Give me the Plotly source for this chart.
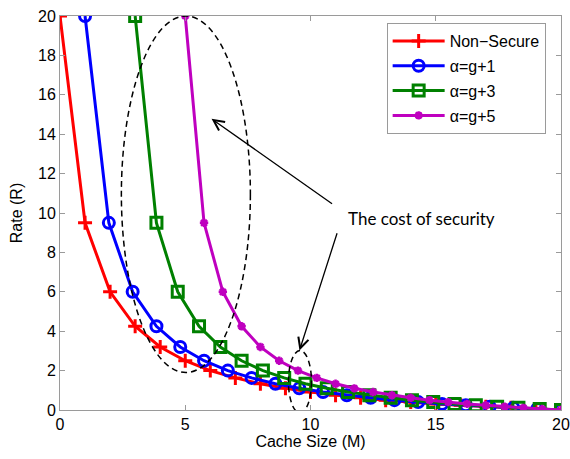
import plotly.graph_objects as go

# ---- data ----
nonsecure_x = [0, 1, 2, 3, 4, 5, 6, 7, 8, 9, 10, 11, 12, 13, 14, 15, 16, 17, 18, 19, 20]
nonsecure_y = [20, 9.5, 6, 4.25, 3.2, 2.5, 2.0, 1.63, 1.33, 1.1, 0.91, 0.75, 0.62, 0.5, 0.4, 0.31, 0.24, 0.17, 0.11, 0.05, 0]

g1_x = [1, 1.95, 2.9, 3.85, 4.8, 5.75, 6.7, 7.65, 8.6, 9.55, 10.5, 11.45, 12.4, 13.35, 14.3, 15.25, 16.2, 17.15, 18.1, 19.05, 20]
g1_y = [20, 9.5, 6, 4.25, 3.2, 2.5, 2.0, 1.63, 1.33, 1.1, 0.91, 0.75, 0.62, 0.5, 0.4, 0.31, 0.24, 0.17, 0.11, 0.05, 0]

g3_x = [3, 3.85, 4.7, 5.55, 6.4, 7.25, 8.1, 8.95, 9.8, 10.65, 11.5, 12.35, 13.2, 14.05, 14.9, 15.75, 16.6, 17.45, 18.3, 19.15, 20]
g3_y = [20, 9.5, 6, 4.25, 3.2, 2.5, 2.0, 1.63, 1.33, 1.1, 0.91, 0.75, 0.62, 0.5, 0.4, 0.31, 0.24, 0.17, 0.11, 0.05, 0]

g5_x = [5, 5.75, 6.5, 7.25, 8, 8.75, 9.5, 10.25, 11, 11.75, 12.5, 13.25, 14, 14.75, 15.5, 16.25, 17, 17.75, 18.5, 19.25, 20]
g5_y = [20, 9.5, 6, 4.25, 3.2, 2.5, 2.0, 1.63, 1.33, 1.1, 0.91, 0.75, 0.62, 0.5, 0.4, 0.31, 0.24, 0.17, 0.11, 0.05, 0]

series_names = ["Non\u2212Secure", "\u03b1=g+1", "\u03b1=g+3", "\u03b1=g+5"]
x_ticks = [0, 5, 10, 15, 20]
y_ticks = [0, 2, 4, 6, 8, 10, 12, 14, 16, 18, 20]
annotation_text = "The cost of security"

FONT = "Liberation Sans, Arial, sans-serif"
AX = "#9a9a9a"

fig = go.Figure()
fig.add_trace(go.Scatter(x=nonsecure_x, y=nonsecure_y, name=series_names[0], mode="lines+markers",
                         legendgroup="a",
                         line=dict(color="#FF0000", width=3),
                         marker=dict(symbol="cross-thin-open", size=10, line=dict(color="#FF0000", width=3))))
fig.add_trace(go.Scatter(x=g1_x, y=g1_y, name=series_names[1], mode="lines+markers",
                         legendgroup="b",
                         line=dict(color="#0000FF", width=3),
                         marker=dict(symbol="circle-open", size=11, line=dict(color="#0000FF", width=3))))
fig.add_trace(go.Scatter(x=g3_x, y=g3_y, name=series_names[2], mode="lines+markers",
                         legendgroup="c",
                         line=dict(color="#008000", width=3),
                         marker=dict(symbol="square-open", size=11, line=dict(color="#008000", width=3))))
fig.add_trace(go.Scatter(x=g5_x, y=g5_y, name=series_names[3], mode="lines+markers",
                         legendgroup="d",
                         line=dict(color="#BF00BF", width=3),
                         marker=dict(symbol="asterisk-open", size=7, line=dict(color="#BF00BF", width=2.5))))

# dashed ellipses
fig.add_shape(type="circle", xref="x", yref="y", x0=2.45, x1=7.6, y0=1.9, y1=20,
              line=dict(color="black", width=1.5, dash="6px,4px"))
fig.add_shape(type="circle", xref="x", yref="y", x0=9.12, x1=10.04, y0=-0.15, y1=3.02,
              line=dict(color="black", width=1.5, dash="6px,4px"))

# arrows
fig.add_annotation(x=6.05, y=14.78, ax=10.92, ay=10.42, xref="x", yref="y", axref="x", ayref="y",
                   text="", showarrow=True, arrowhead=5, arrowsize=1.6, arrowwidth=1.3, arrowcolor="black")
fig.add_annotation(x=9.56, y=3.02, ax=11.08, ay=9.05, xref="x", yref="y", axref="x", ayref="y",
                   text="", showarrow=True, arrowhead=5, arrowsize=1.6, arrowwidth=1.3, arrowcolor="black")
fig.add_annotation(x=11.4, y=9.7, xref="x", yref="y", xanchor="left", yanchor="middle",
                   text=annotation_text, showarrow=False,
                   font=dict(family="Lato, Open Sans, sans-serif", size=17, color="black"))

axis_common = dict(showline=True, linecolor=AX, linewidth=1, mirror="ticks", ticks="inside",
                   ticklen=5, tickcolor=AX, showgrid=False, zeroline=False, automargin=False,
                   tickfont=dict(family=FONT, size=16, color="black"))

fig.update_layout(
    width=570, height=459,
    margin=dict(l=60, r=9, t=16, b=49),
    paper_bgcolor="white", plot_bgcolor="white",
    font=dict(family=FONT, size=16, color="black"),
    xaxis=dict(range=[0, 20], tickvals=x_ticks, title=dict(text="Cache Size (M)", standoff=1,
               font=dict(family=FONT, size=16)), **axis_common),
    yaxis=dict(range=[0, 20], tickvals=y_ticks, title=dict(text="Rate (R)", standoff=11,
               font=dict(family=FONT, size=16)), **axis_common),
    legend=dict(x=0.652, y=0.982, xanchor="left", yanchor="top", bgcolor="white",
                bordercolor=AX, borderwidth=1, font=dict(family=FONT, size=16),
                itemwidth=52, tracegroupgap=1),
    showlegend=True,
)

fig.write_html("out.html")
